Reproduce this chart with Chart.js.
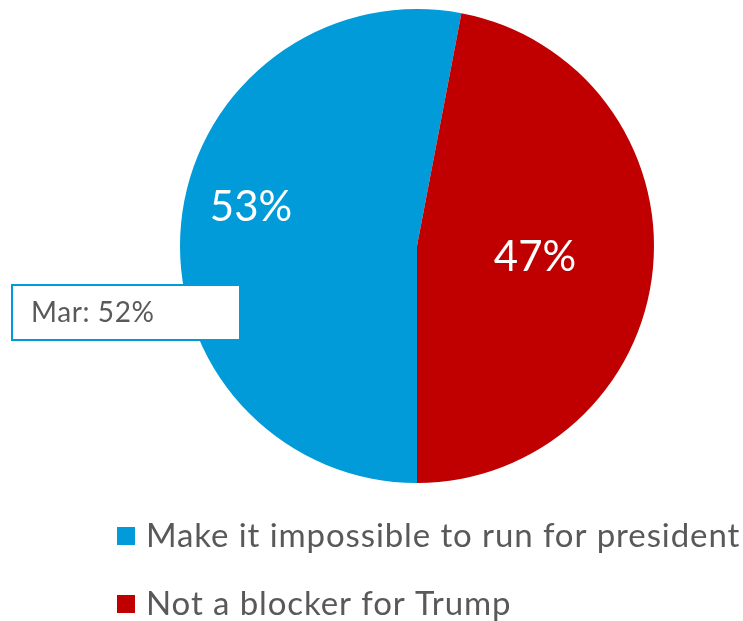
<!DOCTYPE html>
<html lang="en">
<head>
    <meta charset="UTF-8">
    <title>Pie chart</title>
    <style>
        html, body { margin: 0; padding: 0; background: #fff; }
        #wrap { width: 743px; height: 621px; position: relative; }
    </style>
</head>
<body>
<div id="wrap">
    <canvas id="myChart" width="743" height="621"></canvas>
</div>

<script src="https://cdn.jsdelivr.net/npm/chart.js"></script>
<script>
    // donnees
    const categories = ['Make it impossible to run for president', 'Not a blocker for Trump'];
    const values = [53, 47];
    const colors = ['#009BD8', '#C00000'];
    const noteText = 'Mar: 52%';

    // petits decalages pour les etiquettes (px)
    const labelShift = [[-48, -27], [0, 0]];

    const FONT = 'Lato, "Open Sans", sans-serif';

    const overlay = {
        id: 'overlay',
        afterDraw(chart) {
            const ctx = chart.ctx;
            const meta = chart.getDatasetMeta(0);
            ctx.save();

            // pourcentages dans les parts
            ctx.fillStyle = '#fff';
            ctx.font = '42px ' + FONT;
            ctx.textAlign = 'center';
            ctx.textBaseline = 'middle';
            meta.data.forEach((arc, i) => {
                const p = arc.tooltipPosition();
                ctx.fillText(values[i] + '%', p.x + labelShift[i][0], p.y + labelShift[i][1]);
            });

            // boite "Mar"
            ctx.fillStyle = '#fff';
            ctx.fillRect(11, 284, 230, 57);
            ctx.strokeStyle = '#009BD8';
            ctx.lineWidth = 2;
            ctx.strokeRect(12, 285, 228, 55);
            ctx.fillStyle = '#595959';
            ctx.font = '28px ' + FONT;
            ctx.letterSpacing = '0.6px';
            ctx.textAlign = 'left';
            ctx.fillText(noteText, 31, 313);

            // legende
            ctx.font = '33px ' + FONT;
            ctx.letterSpacing = '0.9px';
            categories.forEach((c, i) => {
                const y = 536 + i * 68;
                ctx.fillStyle = colors[i];
                ctx.fillRect(117, y - 9, 18, 18);
                ctx.fillStyle = '#595959';
                ctx.fillText(c, 146, y);
            });
            ctx.restore();
        }
    };

    new Chart(document.getElementById('myChart'), {
        type: 'pie',
        data: {
            labels: categories,
            datasets: [{
                data: values,
                backgroundColor: colors,
                borderWidth: 0
            }]
        },
        options: {
            responsive: false,
            animation: false,
            rotation: 180,
            layout: { padding: { left: 180, right: 89, top: 9, bottom: 138 } },
            plugins: {
                legend: { display: false },
                tooltip: { enabled: false }
            }
        },
        plugins: [overlay]
    });
</script>
</body>
</html>
